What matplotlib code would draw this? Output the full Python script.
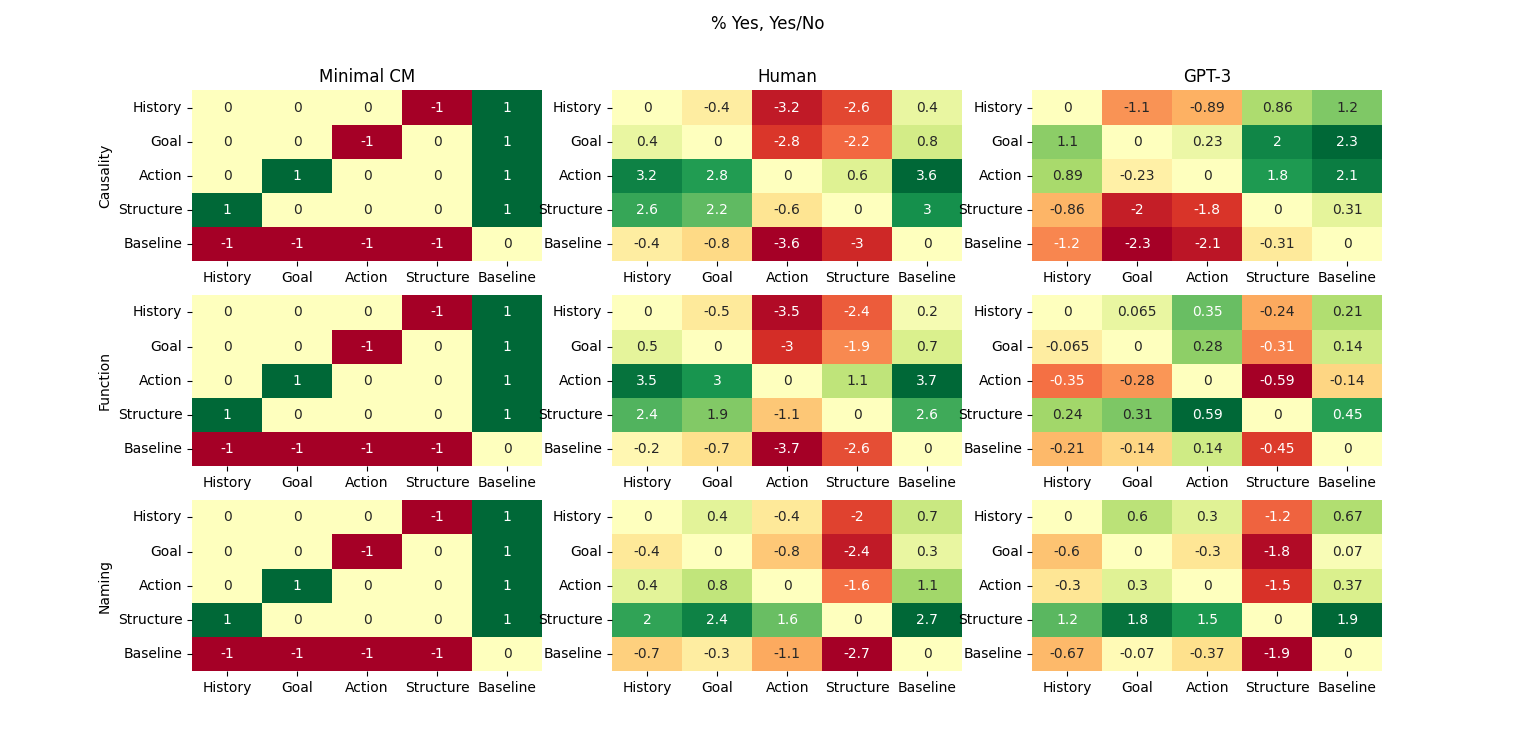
import numpy as np
import matplotlib
matplotlib.use("Agg")
import matplotlib.pyplot as plt
import seaborn as sns

# Labels for rows / columns of each heatmap
labels = ["History", "Goal", "Action", "Structure", "Baseline"]
row_names = ["Causality", "Function", "Naming"]
col_names = ["Minimal CM", "Human", "GPT-3"]

# Minimal CM is the same for every question type
minimal_cm = [
    [0, 0, 0, -1, 1],
    [0, 0, -1, 0, 1],
    [0, 1, 0, 0, 1],
    [1, 0, 0, 0, 1],
    [-1, -1, -1, -1, 0],
]

human_causality = [
    [0, -0.4, -3.2, -2.6, 0.4],
    [0.4, 0, -2.8, -2.2, 0.8],
    [3.2, 2.8, 0, 0.6, 3.6],
    [2.6, 2.2, -0.6, 0, 3],
    [-0.4, -0.8, -3.6, -3, 0],
]
human_function = [
    [0, -0.5, -3.5, -2.4, 0.2],
    [0.5, 0, -3, -1.9, 0.7],
    [3.5, 3, 0, 1.1, 3.7],
    [2.4, 1.9, -1.1, 0, 2.6],
    [-0.2, -0.7, -3.7, -2.6, 0],
]
human_naming = [
    [0, 0.4, -0.4, -2, 0.7],
    [-0.4, 0, -0.8, -2.4, 0.3],
    [0.4, 0.8, 0, -1.6, 1.1],
    [2, 2.4, 1.6, 0, 2.7],
    [-0.7, -0.3, -1.1, -2.7, 0],
]

gpt3_causality = [
    [0, -1.1, -0.89, 0.86, 1.2],
    [1.1, 0, 0.23, 2, 2.3],
    [0.89, -0.23, 0, 1.8, 2.1],
    [-0.86, -2, -1.8, 0, 0.31],
    [-1.2, -2.3, -2.1, -0.31, 0],
]
gpt3_function = [
    [0, 0.065, 0.35, -0.24, 0.21],
    [-0.065, 0, 0.28, -0.31, 0.14],
    [-0.35, -0.28, 0, -0.59, -0.14],
    [0.24, 0.31, 0.59, 0, 0.45],
    [-0.21, -0.14, 0.14, -0.45, 0],
]
gpt3_naming = [
    [0, 0.6, 0.3, -1.2, 0.67],
    [-0.6, 0, -0.3, -1.8, 0.07],
    [-0.3, 0.3, 0, -1.5, 0.37],
    [1.2, 1.8, 1.5, 0, 1.9],
    [-0.67, -0.07, -0.37, -1.9, 0],
]

grid = [
    [minimal_cm, human_causality, gpt3_causality],
    [minimal_cm, human_function, gpt3_function],
    [minimal_cm, human_naming, gpt3_naming],
]

fig, axes = plt.subplots(3, 3, figsize=(15.36, 7.54), dpi=100)
fig.suptitle("% Yes, Yes/No")

for i in range(3):
    for j in range(3):
        ax = axes[i, j]
        sns.heatmap(np.array(grid[i][j]), annot=True, cmap="RdYlGn", center=0,
                    cbar=False, xticklabels=labels, yticklabels=labels, ax=ax)
        ax.set_yticklabels(labels, rotation=0)
        ax.set_xticklabels(labels, rotation=0)
        if i == 0:
            ax.set_title(col_names[j])
        if j == 0:
            ax.set_ylabel(row_names[i])

plt.savefig("out.png")
